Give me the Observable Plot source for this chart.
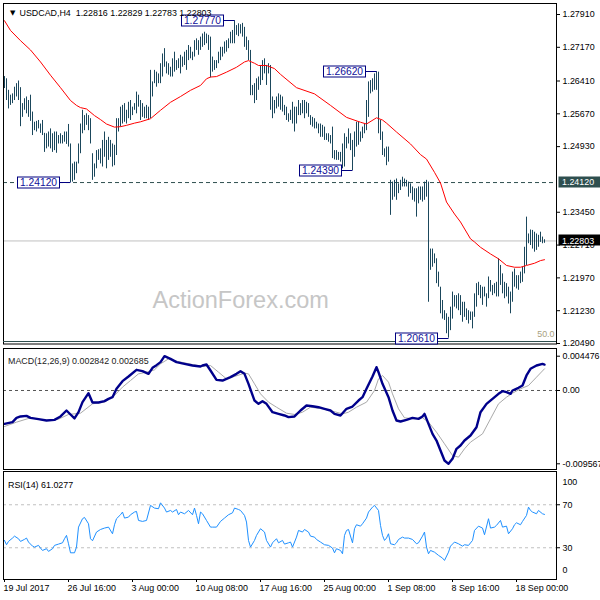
<!DOCTYPE html>
<html><head><meta charset="utf-8">
<script src="https://cdn.jsdelivr.net/npm/d3@7"></script>
<script src="https://cdn.jsdelivr.net/npm/@observablehq/plot@0.6"></script>
<style>
body{margin:0;background:#fff;}
#chart{position:relative;width:600px;height:600px;overflow:hidden;background:#fff;}
#chart svg{position:absolute;left:0;}
</style></head><body><div id="chart"></div>
<script>
// ---------- data ----------
const header = "USDCAD,H4  1.22816 1.22829 1.22783 1.22803";
const barHigh = [
1.2651,1.2646,1.2620,1.2609,1.2612,1.2627,1.2635,1.2641,1.2626,1.2590,
1.2601,1.2605,1.2597,1.2609,1.2571,1.2548,1.2550,1.2552,1.2544,1.2552,
1.2523,1.2522,1.2526,1.2533,1.2522,1.2526,1.2526,1.2518,1.2522,1.2518,
1.2526,1.2526,1.2543,1.2499,1.2454,1.2458,1.2458,1.2499,1.2544,1.2575,
1.2563,1.2567,1.2563,1.2556,1.2477,1.2454,1.2484,1.2486,1.2488,1.2507,
1.2526,1.2507,1.2514,1.2507,1.2499,1.2496,1.2556,1.2556,1.2582,1.2586,
1.2590,1.2575,1.2593,1.2597,1.2582,1.2590,1.2616,1.2609,1.2597,
1.2590,1.2582,1.2586,1.2582,1.2665,1.2639,1.2665,1.2661,1.2657,1.2680,
1.2702,1.2714,1.2684,1.2680,1.2672,1.2691,1.2706,1.2687,1.2691,1.2699,
1.2695,1.2706,1.2710,1.2721,1.2717,1.2706,1.2732,1.2736,1.2732,1.2740,
1.2747,1.2751,1.2747,1.2744,1.2740,1.2695,1.2687,1.2687,1.2706,1.2717,
1.2717,1.2729,1.2732,1.2736,1.2751,1.2755,1.2777,1.2766,1.2770,1.2768,
1.2771,1.2762,1.2740,1.2732,1.2710,1.2631,1.2635,1.2646,1.2650,1.2676,
1.2687,1.2691,1.2676,1.2680,1.2676,1.2605,1.2597,1.2605,1.2612,
1.2609,1.2605,1.2586,1.2582,1.2567,1.2575,1.2593,1.2582,1.2582,1.2597,
1.2590,1.2597,1.2597,1.2593,1.2590,1.2563,1.2559,1.2556,1.2548,1.2544,
1.2544,1.2541,1.2537,1.2522,1.2522,1.2518,1.2537,1.2484,1.2484,1.2480,
1.2480,1.2499,1.2522,1.2514,1.2533,1.2522,1.2507,1.2526,1.2548,1.2548,
1.2526,1.2537,1.2544,1.2597,1.2639,1.2642,1.2646,1.2657,1.2662,1.2661,
1.2552,1.2526,1.2488,1.2492,1.2492,1.2417,1.2413,1.2417,1.2420,1.2409,
1.2417,1.2424,1.2420,1.2417,1.2413,1.2409,1.2402,1.2398,1.2398,1.2402,
1.2402,1.2402,1.2413,1.2417,1.2413,1.2262,1.2262,1.2251,1.2240,1.2210,
1.2176,1.2146,1.2123,1.2116,1.2108,1.2131,1.2165,1.2157,1.2157,1.2161,
1.2157,1.2142,1.2142,1.2127,1.2123,1.2120,1.2120,1.2161,1.2184,1.2187,
1.2180,1.2176,1.2176,1.2161,1.2199,1.2191,1.2180,1.2184,1.2187,1.2240,
1.2225,1.2206,1.2187,1.2184,1.2176,1.2165,1.2210,1.2217,1.2202,1.2202,
1.2210,1.2221,1.2266,1.2334,1.2296,1.2305,1.2304,1.2300,1.2296,1.2293,
1.2300,1.2289,1.2283];
const barLow = [
1.2624,1.2597,1.2578,1.2586,1.2590,1.2597,1.2605,1.2597,1.2538,1.2559,
1.2575,1.2567,1.2559,1.2550,1.2518,1.2529,1.2526,1.2533,1.2523,1.2518,
1.2480,1.2488,1.2492,1.2488,1.2480,1.2484,1.2478,1.2499,1.2499,1.2499,
1.2503,1.2498,1.2492,1.2412,1.2413,1.2417,1.2432,1.2454,1.2477,1.2522,
1.2529,1.2541,1.2529,1.2499,1.2417,1.2424,1.2443,1.2462,1.2454,1.2447,
1.2469,1.2443,1.2462,1.2469,1.2447,1.2450,1.2473,1.2526,1.2537,1.2544,
1.2548,1.2544,1.2556,1.2552,1.2563,1.2575,1.2567,1.2582,1.2552,
1.2559,1.2556,1.2556,1.2552,1.2556,1.2605,1.2635,1.2627,1.2635,1.2635,
1.2650,1.2672,1.2657,1.2654,1.2650,1.2650,1.2661,1.2665,1.2669,1.2657,
1.2672,1.2676,1.2665,1.2687,1.2691,1.2687,1.2695,1.2710,1.2699,1.2710,
1.2717,1.2721,1.2725,1.2710,1.2648,1.2661,1.2665,1.2669,1.2680,1.2687,
1.2695,1.2702,1.2706,1.2714,1.2725,1.2725,1.2725,1.2744,1.2741,1.2747,
1.2740,1.2717,1.2710,1.2687,1.2608,1.2608,1.2590,1.2597,1.2620,1.2631,
1.2642,1.2657,1.2631,1.2657,1.2575,1.2556,1.2567,1.2578,1.2582,
1.2575,1.2571,1.2563,1.2552,1.2548,1.2552,1.2544,1.2526,1.2544,1.2563,
1.2563,1.2567,1.2556,1.2567,1.2559,1.2541,1.2537,1.2533,1.2533,1.2522,
1.2514,1.2514,1.2507,1.2507,1.2503,1.2499,1.2466,1.2463,1.2462,1.2462,
1.2458,1.2443,1.2447,1.2488,1.2499,1.2484,1.2439,1.2469,1.2492,1.2496,
1.2503,1.2511,1.2522,1.2529,1.2559,1.2612,1.2616,1.2620,1.2620,1.2522,
1.2507,1.2473,1.2469,1.2450,1.2458,1.2338,1.2372,1.2379,1.2372,1.2387,
1.2394,1.2402,1.2402,1.2402,1.2379,1.2387,1.2372,1.2368,1.2334,1.2364,
1.2372,1.2368,1.2372,1.2379,1.2142,1.2214,1.2221,1.2229,1.2184,1.2176,
1.2116,1.2104,1.2101,1.2071,1.2061,1.2078,1.2104,1.2131,1.2127,1.2123,
1.2112,1.2097,1.2108,1.2101,1.2093,1.2101,1.2082,1.2108,1.2131,1.2157,
1.2150,1.2135,1.2154,1.2131,1.2150,1.2165,1.2157,1.2161,1.2154,1.2154,
1.2180,1.2161,1.2150,1.2154,1.2138,1.2116,1.2142,1.2176,1.2172,1.2169,
1.2184,1.2187,1.2206,1.2225,1.2274,1.2270,1.2262,1.2255,1.2259,1.2266,
1.2277,1.2274,1.2275];
const maIdx = [0,3,8,13,18,23,28,33,36,38,41,45,48,51,55,58,61,65,68,73,78,83,88,93,98,101,103,106,111,116,120,122,125,127,131,135,138,146,155,163,171,178,181,186,189,191,196,203,208,211,215,218,221,225,228,233,235,238,243,247,251,255,258,261,265,268,270];
const maVal = [1.2777,1.2755,1.2732,1.2711,1.2684,1.2654,1.2626,1.2597,1.2586,1.2581,1.2578,1.2563,1.2554,1.2544,1.2537,1.2538,1.2541,1.2546,1.2549,1.2556,1.2575,1.2593,1.2606,1.2620,1.2631,1.2646,1.2650,1.2651,1.2661,1.2672,1.2684,1.2687,1.2681,1.2676,1.2676,1.2669,1.2656,1.2626,1.2612,1.2586,1.2559,1.2548,1.2544,1.2558,1.2553,1.2546,1.2526,1.2499,1.2475,1.2465,1.2435,1.2411,1.2368,1.2341,1.2323,1.2285,1.2278,1.2266,1.2251,1.2240,1.2225,1.2221,1.2221,1.2225,1.2230,1.2236,1.2238];
const annIdx = [115,186,174,33,222];
const annPrice = [1.2777,1.2662,1.2439,1.2412,1.2061];
const annText = ["1.27770","1.26620","1.24390","1.24120","1.20610"];
const keyLevel = 1.2412;
const lastPrice = 1.22803;
const priceTicks = [1.27910,1.27170,1.26410,1.25670,1.24930,1.23450,1.22710,1.21970,1.21230,1.20490];

const macdLabel = "MACD(12,26,9) 0.002842 0.002685";
const macdIdx = [0,4,6,8,11,13,17,21,25,28,31,33,35,37,39,42,44,47,50,52,54,56,59,62,66,69,72,74,76,78,80,83,86,90,94,98,99,101,103,106,109,113,116,118,120,122,125,127,129,131,134,137,140,142,145,148,151,154,157,160,163,165,168,171,174,177,179,181,184,186,187,189,192,194,196,198,201,204,207,209,210,212,214,216,218,220,222,224,226,228,230,233,236,238,241,244,247,249,251,253,254,257,259,261,263,266,269,270];
const macdVal = [-0.00435,-0.00413,-0.00357,-0.00339,-0.00331,-0.00357,-0.00374,-0.00392,-0.00383,-0.00339,-0.00261,-0.00313,-0.00365,-0.00283,-0.00152,-0.00035,-0.00157,-0.00157,-0.00139,-0.00109,-0.00087,0.00022,0.00122,0.00183,0.00270,0.00252,0.00217,0.00296,0.00331,0.00370,0.00448,0.00413,0.00370,0.00348,0.00326,0.00313,0.00326,0.00339,0.00261,0.00139,0.00130,0.00174,0.00217,0.00252,0.00217,0.00087,-0.00131,-0.00174,-0.00139,-0.00174,-0.00283,-0.00305,-0.00326,-0.00348,-0.00339,-0.00261,-0.00196,-0.00205,-0.00218,-0.00239,-0.00261,-0.00305,-0.00326,-0.00239,-0.00209,-0.00131,-0.00087,0.00022,0.00183,0.00304,0.00239,0.00087,-0.00087,-0.00261,-0.00392,-0.00405,-0.00383,-0.00357,-0.00370,-0.00339,-0.00305,-0.00435,-0.00566,-0.00653,-0.00783,-0.00914,-0.00957,-0.00892,-0.00761,-0.00718,-0.00653,-0.00587,-0.00479,-0.00283,-0.00174,-0.00109,-0.00044,-0.00009,-0.00022,-0.00044,0,0.00035,0.00065,0.00196,0.00283,0.00326,0.00348,0.00339];
const sigIdx = [0,6,13,21,27,32,38,44,50,55,59,63,67,71,75,78,82,86,94,99,103,107,111,115,120,122,125,128,132,136,141,145,149,153,159,164,169,172,176,181,185,187,189,192,194,197,200,205,209,212,216,220,224,227,230,233,239,243,247,251,254,258,262,266,270];
const sigVal = [-0.00470,-0.00413,-0.00357,-0.00392,-0.00374,-0.00313,-0.00296,-0.00174,-0.00152,-0.00065,0.00044,0.00130,0.00217,0.00239,0.00270,0.00348,0.00413,0.00383,0.00339,0.00313,0.00326,0.00239,0.00152,0.00183,0.00226,0.00217,0.00087,-0.00044,-0.00152,-0.00218,-0.00296,-0.00313,-0.00283,-0.00218,-0.00239,-0.00270,-0.00305,-0.00283,-0.00218,-0.00152,0,0.00152,0.00196,0.00109,-0.00044,-0.00239,-0.00357,-0.00370,-0.00357,-0.00413,-0.00544,-0.00696,-0.00848,-0.00870,-0.00761,-0.00674,-0.00566,-0.00370,-0.00174,-0.00087,-0.00035,0.00022,0.00065,0.00174,0.00283];
const macdTicks = [0.004476, 0, -0.009567];

const rsiLabel = "RSI(14) 61.0277";
const rsiIdx = [0,1,2,4,5,7,8,10,11,12,14,15,17,18,19,21,22,24,25,27,29,30,31,32,33,35,36,37,39,40,42,43,44,46,48,50,52,54,55,56,58,59,60,62,63,65,66,67,69,71,73,75,77,78,80,81,83,84,86,87,88,90,92,94,95,96,97,98,99,101,103,104,106,108,110,112,114,115,117,118,120,121,122,123,125,126,128,130,131,133,134,136,137,139,140,142,143,144,146,147,149,150,152,153,155,156,158,160,162,164,165,166,168,169,170,171,172,174,175,176,178,179,181,182,184,185,187,188,189,190,191,192,193,195,196,197,199,200,202,204,206,207,209,210,211,212,213,215,217,219,220,222,223,225,227,229,230,232,234,235,237,239,240,242,243,245,246,248,249,251,252,254,255,256,258,259,261,262,263,264,266,267,269,270];
const rsiVal = [36.8,32.8,35.9,39.0,40.8,38.4,35.9,37.8,39.0,35.3,31.5,30.6,32.2,29.7,27.5,29.1,26.6,29.1,32.2,33.4,34.6,38.4,41.5,33.7,25.3,25.3,30.6,49.2,57.0,58.2,52.3,38.4,36.5,44.6,47.0,48.3,49.2,43.0,51.4,57.0,60.7,63.2,57.6,58.5,60.7,63.2,63.8,55.4,54.5,55.4,69.4,66.9,66.3,71.8,66.9,63.2,64.7,63.2,65.6,60.7,63.2,61.6,64.7,60.7,66.9,60.1,52.3,63.2,61.6,55.4,49.2,49.2,49.2,54.5,57.6,60.7,62.5,66.9,65.6,64.7,60.1,53.9,36.8,30.6,36.8,41.5,47.7,44.6,36.8,30.6,34.6,38.4,34.6,36.8,33.4,34.6,35.3,30.6,39.9,46.1,44.6,47.0,44.6,40.8,39.9,37.7,35.3,32.8,32.2,29.7,25.3,29.1,27.5,24.4,41.5,46.1,47.0,34.6,47.7,51.4,50.1,52.3,57.6,63.2,67.8,69.4,64.7,50.8,41.5,36.8,39.0,43.0,33.7,32.8,34.6,37.7,39.9,39.0,39.0,37.7,33.7,34.6,40.8,44.6,30.6,24.4,27.5,25.9,22.9,20.4,18.2,25.9,31.5,35.3,33.7,31.5,32.8,32.2,36.8,46.1,50.1,48.3,42.1,57.0,48.3,49.2,50.8,55.4,49.2,50.1,43.0,47.7,51.4,53.2,51.4,54.5,60.1,67.8,64.7,63.2,61.6,64.7,61.6,61.0];
const rsiLevels = [70, 30];

const timeBars = [0,32,64,96,128,160,192,224,256];
const timeLabels = ["19 Jul 2017","26 Jul 16:00","3 Aug 00:00","10 Aug 08:00","17 Aug 16:00","25 Aug 00:00","1 Sep 08:00","8 Sep 16:00","18 Sep 00:00"];

// ---------- build ----------
const FONT = "'Liberation Sans', Arial, Helvetica, sans-serif";
const FS = 8.9;
const bars = barHigh.map((h, i) => ({i, high: h, low: barLow[i]}));
const ma = maIdx.map((i, k) => ({i, v: maVal[k]}));
const macd = macdIdx.map((i, k) => ({i, v: macdVal[k]}));
const sig = sigIdx.map((i, k) => ({i, v: sigVal[k]}));
const rsi = rsiIdx.map((i, k) => ({i, v: rsiVal[k]}));
const times = timeBars.map((b, k) => ({b, t: timeLabels[k]}));
const xOpt = {domain: [0, 276], range: [4, 556]};
const baseStyle = {fontFamily: FONT, fontSize: FS + "px", color: "#000", background: "transparent", overflow: "visible"};

const main = Plot.plot({
  width: 600, height: 346, marginLeft: 3, marginRight: 44, marginTop: 3, marginBottom: 2.5,
  style: baseStyle,
  x: {...xOpt, axis: null},
  y: {domain: [1.2049, 1.2791], range: [343, 14], axis: "right", ticks: priceTicks,
      tickFormat: d => d.toFixed(5), tickSize: 3, tickPadding: 3, label: null},
  marks: [
    Plot.text(["ActionForex.com"], {frameAnchor: "top-left", dx: 149, dy: 288, textAnchor: "start", fontSize: 23.5, fill: "#c6c6c6"}),
    Plot.ruleY([lastPrice], {stroke: "#c0c0c0"}),
    Plot.ruleY([keyLevel], {stroke: "#2f4f4f", strokeDasharray: "4,3"}),
    Plot.ruleX(bars, {x: "i", y1: "low", y2: "high", stroke: "#1b475c"}),
    Plot.line(ma, {x: "i", y: "v", stroke: "#ff0000", strokeWidth: 1}),
    Plot.text([header], {frameAnchor: "top-left", dx: 16, dy: 6.5, textAnchor: "start", fill: "#000"}),
    Plot.text(["\u25BC"], {frameAnchor: "top-left", dx: 6.5, dy: 6.5, fontSize: 7, fontFamily: "DejaVu Sans", fill: "#000"}),
    Plot.text(["50.0"], {frameAnchor: "bottom-right", dx: -2, dy: -7, textAnchor: "end", fill: "#a89f80"}),
    Plot.frame({stroke: "#000"})
  ]
});

const macdPlot = Plot.plot({
  width: 600, height: 124, marginLeft: 3, marginRight: 44, marginTop: 2, marginBottom: 1,
  style: baseStyle,
  x: {...xOpt, axis: null},
  y: {domain: [-0.009567, 0.004476], range: [117.3, 9.7], axis: "right", ticks: macdTicks,
      tickFormat: d => d === 0 ? "0.00" : d.toFixed(6), tickSize: 3, tickPadding: 3, label: null},
  marks: [
    Plot.ruleY([0], {stroke: "#555", strokeDasharray: "3,3"}),
    Plot.line(sig, {x: "i", y: "v", stroke: "#a9a9a9", strokeWidth: 1}),
    Plot.line(macd, {x: "i", y: "v", stroke: "#00008b", strokeWidth: 2.4}),
    Plot.text([macdLabel], {frameAnchor: "top-left", dx: 4.5, dy: 9, textAnchor: "start", fill: "#222"}),
    Plot.frame({stroke: "#000"})
  ]
});

const rsiPlot = Plot.plot({
  width: 600, height: 130, marginLeft: 3, marginRight: 44, marginTop: 1, marginBottom: 21,
  style: baseStyle,
  x: {...xOpt, ticks: timeBars, tickFormat: () => "", tickSize: 3, label: null},
  y: {domain: [0, 100], range: [109.5, 2], axis: "right", ticks: rsiLevels, tickSize: 3, tickPadding: 3, label: null},
  marks: [
    Plot.ruleY(rsiLevels, {stroke: "#c0c0c0", strokeDasharray: "3,3"}),
    Plot.line(rsi, {x: "i", y: "v", stroke: "#1e90ff", strokeWidth: 1}),
    Plot.text([rsiLabel], {frameAnchor: "top-left", dx: 4.5, dy: 10, textAnchor: "start", fill: "#000"}),
    Plot.text(["100"], {frameAnchor: "top-right", dx: 6, dy: 7.5, textAnchor: "start", fill: "#000"}),
    Plot.text(["0"], {frameAnchor: "bottom-right", dx: 6, dy: -6.5, textAnchor: "start", fill: "#000"}),
    Plot.text(times, {x: "b", text: "t", frameAnchor: "bottom", textAnchor: "start", dx: -1, dy: 11, fill: "#000"}),
    Plot.frame({stroke: "#000"})
  ]
});

const chart = document.getElementById("chart");
[[main, 0], [macdPlot, 346], [rsiPlot, 470]].forEach(([s, top]) => {
  s.style.position = "absolute"; s.style.top = top + "px"; s.style.left = "0px";
  chart.appendChild(s);
});

// annotations and price tags, placed through the plot's own scales
function scaleFn(sc) {
  if (sc && typeof sc.apply === "function") return v => sc.apply(v);
  return d3.scaleLinear(sc.domain, sc.range);
}
const xs = scaleFn(main.scale("x")), ys = scaleFn(main.scale("y"));
const g = d3.select(main).append("g").attr("font-family", FONT).attr("text-anchor", "start");
// separator line near bottom of main panel
g.append("line").attr("x1", 3).attr("x2", 556).attr("y1", 341.5).attr("y2", 341.5).attr("stroke", "#2f4f4f");
annIdx.forEach((bi, k) => {
  const bx = Math.round(xs(bi)) + 0.5;
  const by = Math.round(ys(annPrice[k])) + 0.5;
  const bw = 42, bh = 11, right = bx - 11;
  g.append("line").attr("x1", right).attr("x2", bx).attr("y1", by).attr("y2", by).attr("stroke", "#000080");
  g.append("rect").attr("x", right - bw).attr("y", by - 5.5).attr("width", bw).attr("height", bh)
    .attr("fill", "#fff").attr("stroke", "#000080");
  g.append("text").attr("x", right - bw / 2).attr("y", by).attr("dy", "0.36em").attr("text-anchor", "middle")
    .attr("font-size", 10.3).attr("fill", "#10109a").text(annText[k]);
});
[[keyLevel, "#2f4f4f"], [lastPrice, "#000"]].forEach(([p, c]) => {
  const y = ys(p);
  g.append("rect").attr("x", 558.5).attr("y", Math.round(y) - 5.5).attr("width", 42).attr("height", 11).attr("fill", c);
  g.append("text").attr("x", 562).attr("y", y).attr("dy", "0.36em").attr("text-anchor", "start")
    .attr("font-size", FS).attr("fill", "#fff").text(p.toFixed(5));
});
// keep the header line on top of the annotation boxes, as in the reference
d3.select(main).selectAll("text").filter(function() { return this.textContent === header; })
  .each(function() { const grp = this.parentNode; grp.parentNode.appendChild(grp); });
</script></body></html>
